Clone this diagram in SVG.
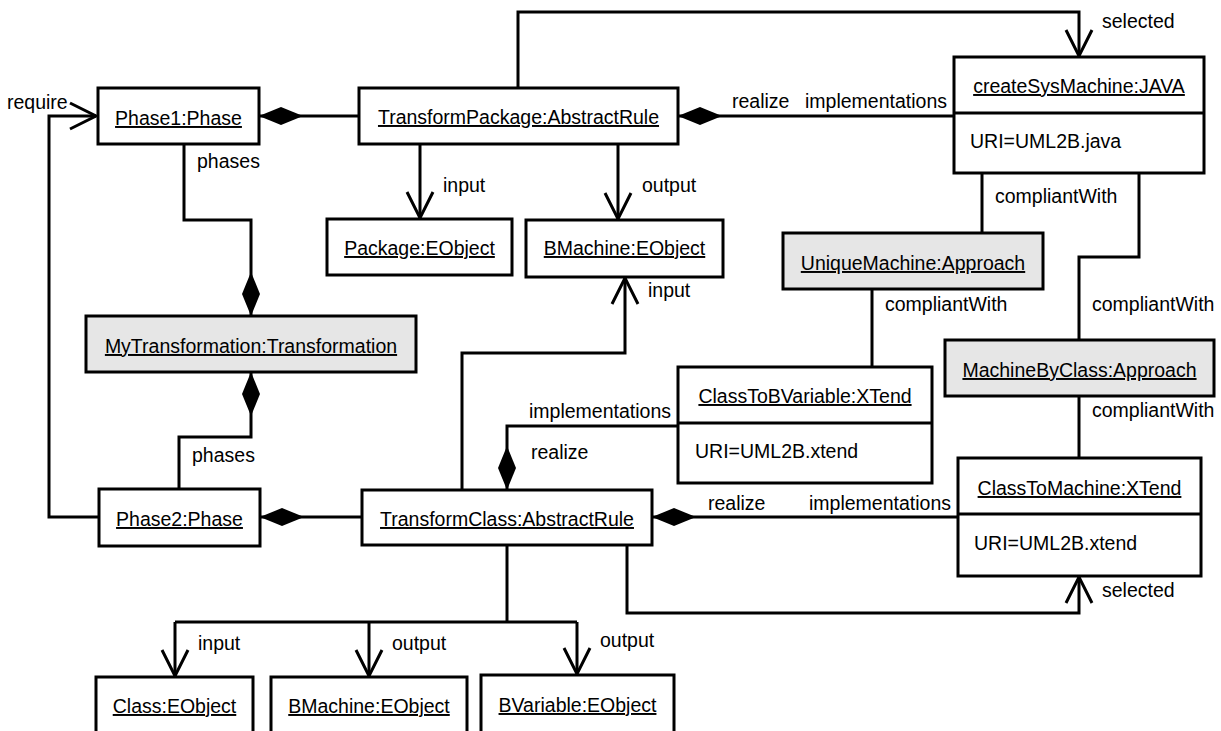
<svg xmlns="http://www.w3.org/2000/svg" width="1221" height="731" viewBox="0 0 1221 731">
<style>
.box{fill:#fff;stroke:#000;stroke-width:3}
.gray{fill:#e6e6e6}
.div{stroke:#000;stroke-width:3}
.t{font-family:"Liberation Sans",Arial,sans-serif;font-size:19.5px;fill:#000}
.c{text-anchor:middle}
.u{text-decoration:underline;text-underline-offset:4px}
.ln{fill:none;stroke:#000;stroke-width:3}
</style>
<defs>
<marker id="arrow" markerUnits="userSpaceOnUse" markerWidth="40" markerHeight="40" viewBox="-30 -20 40 40" refX="0" refY="0" orient="auto" overflow="visible">
<path d="M-26,-13 L0,0 L-26,13" fill="none" stroke="#000" stroke-width="3"/>
</marker>
<marker id="diamond" markerUnits="userSpaceOnUse" markerWidth="50" markerHeight="30" viewBox="-2 -15 50 30" refX="0" refY="0" orient="auto" overflow="visible">
<path d="M0,0 L22,-9 L44,0 L22,9 Z" fill="#000"/>
</marker>
</defs>
<rect width="1221" height="731" fill="#fff"/>

<g id="connectors">
<path class="ln" d="M99,517 L49,517 L49,116 L96,116" marker-end="url(#arrow)"/>
<path class="ln" d="M259,116 L359,116" marker-start="url(#diamond)"/>
<path class="ln" d="M251,316 L251,220 L184,220 L184,144" marker-start="url(#diamond)"/>
<path class="ln" d="M251,372 L251,437 L179,437 L179,489" marker-start="url(#diamond)"/>
<path class="ln" d="M260,517 L362,517" marker-start="url(#diamond)"/>
<path class="ln" d="M518,88 L518,12 L1079,12 L1079,56" marker-end="url(#arrow)"/>
<path class="ln" d="M678,116 L954,116" marker-start="url(#diamond)"/>
<path class="ln" d="M420,144 L420,218" marker-end="url(#arrow)"/>
<path class="ln" d="M618,144 L618,219" marker-end="url(#arrow)"/>
<path class="ln" d="M982,173 L982,233"/>
<path class="ln" d="M1139,173 L1139,257 L1079,257 L1079,340"/>
<path class="ln" d="M872,289 L872,367"/>
<path class="ln" d="M1079,396 L1079,458"/>
<path class="ln" d="M462,490 L462,353 L625,353 L625,278" marker-end="url(#arrow)"/>
<path class="ln" d="M507,490 L507,426 L678,426" marker-start="url(#diamond)"/>
<path class="ln" d="M652,517 L958,517" marker-start="url(#diamond)"/>
<path class="ln" d="M627,545 L627,613 L1079,613 L1079,577" marker-end="url(#arrow)"/>
<path class="ln" d="M507,545 L507,622"/>
<path class="ln" d="M175,622 L577,622"/>
<path class="ln" d="M175,622 L175,676" marker-end="url(#arrow)"/>
<path class="ln" d="M369,622 L369,676" marker-end="url(#arrow)"/>
<path class="ln" d="M577,622 L577,674" marker-end="url(#arrow)"/>
<g class="t">
<text x="7" y="109">require</text>
<text x="197" y="168">phases</text>
<text x="192" y="462">phases</text>
<text x="1102" y="28">selected</text>
<text x="732" y="108">realize</text>
<text x="805" y="108">implementations</text>
<text x="443" y="192">input</text>
<text x="642" y="192">output</text>
<text x="995" y="203">compliantWith</text>
<text x="885" y="311">compliantWith</text>
<text x="1092" y="311">compliantWith</text>
<text x="1092" y="417">compliantWith</text>
<text x="648" y="297">input</text>
<text x="529" y="418">implementations</text>
<text x="531" y="459">realize</text>
<text x="708" y="510">realize</text>
<text x="809" y="510">implementations</text>
<text x="1102" y="597">selected</text>
<text x="198" y="650">input</text>
<text x="392" y="650">output</text>
<text x="600" y="647">output</text>
</g>
</g>

<g id="phase1">
<rect class="box" x="98" y="88" width="161" height="56"/>
<text class="t c u" x="178.5" y="125">Phase1:Phase</text>
</g>
<g id="transformPackage">
<rect class="box" x="359" y="88" width="319" height="56"/>
<text class="t c u" x="518.5" y="124">TransformPackage:AbstractRule</text>
</g>
<g id="createSysMachine">
<rect class="box" x="954" y="57" width="250" height="116"/>
<line class="div" x1="954" y1="113" x2="1204" y2="113"/>
<text class="t c u" x="1079" y="93">createSysMachine:JAVA</text>
<text class="t" x="970" y="148">URI=UML2B.java</text>
</g>
<g id="packageEObject">
<rect class="box" x="327" y="219" width="185" height="56"/>
<text class="t c u" x="419.5" y="255">Package:EObject</text>
</g>
<g id="bmachineTop">
<rect class="box" x="526" y="220" width="197" height="57"/>
<text class="t c u" x="624.5" y="255">BMachine:EObject</text>
</g>
<g id="uniqueMachine">
<rect class="box gray" x="783" y="233" width="260" height="56"/>
<text class="t c u" x="913" y="270">UniqueMachine:Approach</text>
</g>
<g id="myTransformation">
<rect class="box gray" x="86" y="316" width="330" height="56"/>
<text class="t c u" x="251" y="353">MyTransformation:Transformation</text>
</g>
<g id="machineByClass">
<rect class="box gray" x="945" y="340" width="269" height="56"/>
<text class="t c u" x="1079.5" y="377">MachineByClass:Approach</text>
</g>
<g id="classToBVariable">
<rect class="box" x="678" y="367" width="254" height="116"/>
<line class="div" x1="678" y1="423" x2="932" y2="423"/>
<text class="t c u" x="805" y="403">ClassToBVariable:XTend</text>
<text class="t" x="695" y="458">URI=UML2B.xtend</text>
</g>
<g id="phase2">
<rect class="box" x="99" y="489" width="161" height="57"/>
<text class="t c u" x="179.5" y="526">Phase2:Phase</text>
</g>
<g id="transformClass">
<rect class="box" x="362" y="490" width="290" height="55"/>
<text class="t c u" x="507" y="526">TransformClass:AbstractRule</text>
</g>
<g id="classToMachine">
<rect class="box" x="958" y="458" width="243" height="118"/>
<line class="div" x1="958" y1="514" x2="1201" y2="514"/>
<text class="t c u" x="1079.5" y="495">ClassToMachine:XTend</text>
<text class="t" x="974" y="550">URI=UML2B.xtend</text>
</g>
<g id="classEObject">
<rect class="box" x="96" y="677" width="157" height="60"/>
<text class="t c u" x="174.5" y="713">Class:EObject</text>
</g>
<g id="bmachineBottom">
<rect class="box" x="271" y="677" width="196" height="60"/>
<text class="t c u" x="369" y="713">BMachine:EObject</text>
</g>
<g id="bvariableEObject">
<rect class="box" x="481" y="675" width="193" height="62"/>
<text class="t c u" x="577.5" y="712">BVariable:EObject</text>
</g>
</svg>
